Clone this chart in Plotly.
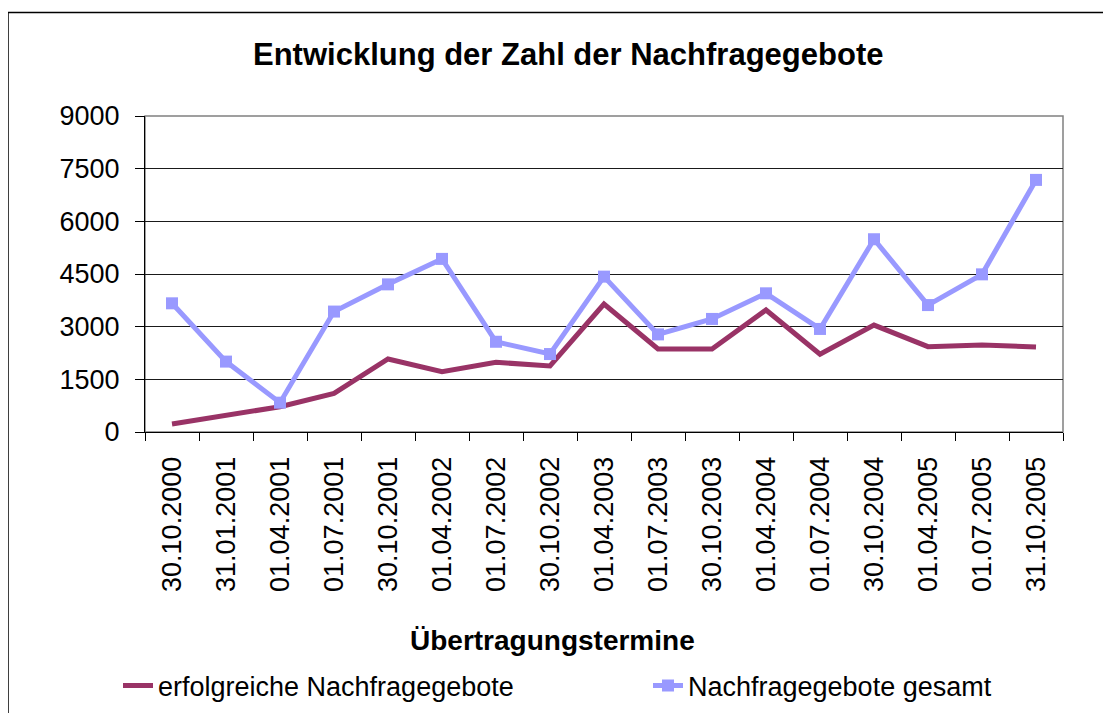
import plotly.graph_objects as go

categories = ["30.10.2000", "31.01.2001", "01.04.2001", "01.07.2001", "30.10.2001",
              "01.04.2002", "01.07.2002", "30.10.2002", "01.04.2003", "01.07.2003",
              "30.10.2003", "01.04.2004", "01.07.2004", "30.10.2004", "01.04.2005",
              "01.07.2005", "31.10.2005"]
erfolgreiche = [230, 465, 720, 1100, 2080, 1720, 1985, 1880, 3645, 2365,
                2365, 3475, 2215, 3045, 2430, 2480, 2420]
gesamt = [3665, 2005, 835, 3430, 4205, 4930, 2570, 2220, 4425, 2780,
          3220, 3950, 2935, 5490, 3615, 4490, 7180]
y_ticks = [0, 1500, 3000, 4500, 6000, 7500, 9000]

title_text = "Entwicklung der Zahl der Nachfragegebote"
x_title = "Übertragungstermine"
name_a = "erfolgreiche Nachfragegebote"
name_b = "Nachfragegebote gesamt"

FONT = "Arial, 'Liberation Sans', sans-serif"
W, H = 1111, 713
OFF = 8  # page body margin offset
# target page-pixel plot area
PL, PR, PT, PB = 145, 1063, 116, 432
L, T = PL - OFF, PT - OFF
R = W - (PR - OFF)
B = H - (PB - OFF)
PW, PH = PR - PL, PB - PT

def px_x(x):
    return (x - PL) / PW

def px_y(y):
    return (PB - y) / PH

fig = go.Figure()
fig.add_trace(go.Scatter(
    x=categories, y=erfolgreiche, name=name_a, mode="lines",
    line=dict(color="#993366", width=5), legend="legend",
))
fig.add_trace(go.Scatter(
    x=categories, y=gesamt, name=name_b, mode="lines+markers",
    line=dict(color="#9999FF", width=5),
    marker=dict(symbol="square", size=12, color="#9999FF"), legend="legend2",
))

legend_common = dict(
    orientation="h", xanchor="left", yanchor="middle",
    font=dict(family=FONT, size=27, color="black"),
    bgcolor="rgba(0,0,0,0)", itemclick=False, itemdoubleclick=False,
)

fig.update_layout(
    width=W, height=H,
    margin=dict(l=L, r=R, t=T, b=B, autoexpand=False),
    paper_bgcolor="white", plot_bgcolor="white",
    font=dict(family=FONT, size=27, color="black"),
    showlegend=True,
    legend=dict(x=px_x(118), y=px_y(686), **legend_common),
    legend2=dict(x=px_x(648), y=px_y(686), **legend_common),
    xaxis=dict(
        type="category", range=[-0.5, len(categories) - 0.5],
        tickson="boundaries", ticks="outside", ticklen=8, tickcolor="black", tickwidth=1,
        showline=True, linecolor="black", linewidth=1, mirror=False,
        showgrid=False, zeroline=False,
        tickangle=-90, tickfont=dict(family=FONT, size=27),
        ticklabelstandoff=13,
    ),
    yaxis=dict(
        range=[0, 9000], tickvals=y_ticks, ticktext=[str(v) for v in y_ticks],
        ticks="outside", ticklen=9, tickcolor="black", tickwidth=1,
        showline=True, linecolor="black", linewidth=1,
        showgrid=True, gridcolor="#1a1a1a", gridwidth=1, zeroline=False,
        tickfont=dict(family=FONT, size=27),
        ticklabelstandoff=10,
    ),
    shapes=[
        dict(type="rect", xref="paper", yref="paper", x0=0, x1=1, y0=0, y1=1,
             line=dict(color="#808080", width=1.5), layer="below"),
        dict(type="rect", xref="paper", yref="paper",
             x0=px_x(8), x1=px_x(1110), y0=px_y(740), y1=px_y(12.5),
             line=dict(color="black", width=1.5), layer="below"),
    ],
    annotations=[
        dict(text="<b>" + title_text + "</b>", xref="paper", yref="paper",
             x=px_x(568), y=px_y(54), xanchor="center", yanchor="middle",
             showarrow=False, font=dict(family=FONT, size=31, color="black")),
        dict(text="<b>" + x_title + "</b>", xref="paper", yref="paper",
             x=px_x(552), y=px_y(640), xanchor="center", yanchor="middle",
             showarrow=False, font=dict(family=FONT, size=28, color="black")),
    ],
)

fig.write_html("out.html")
